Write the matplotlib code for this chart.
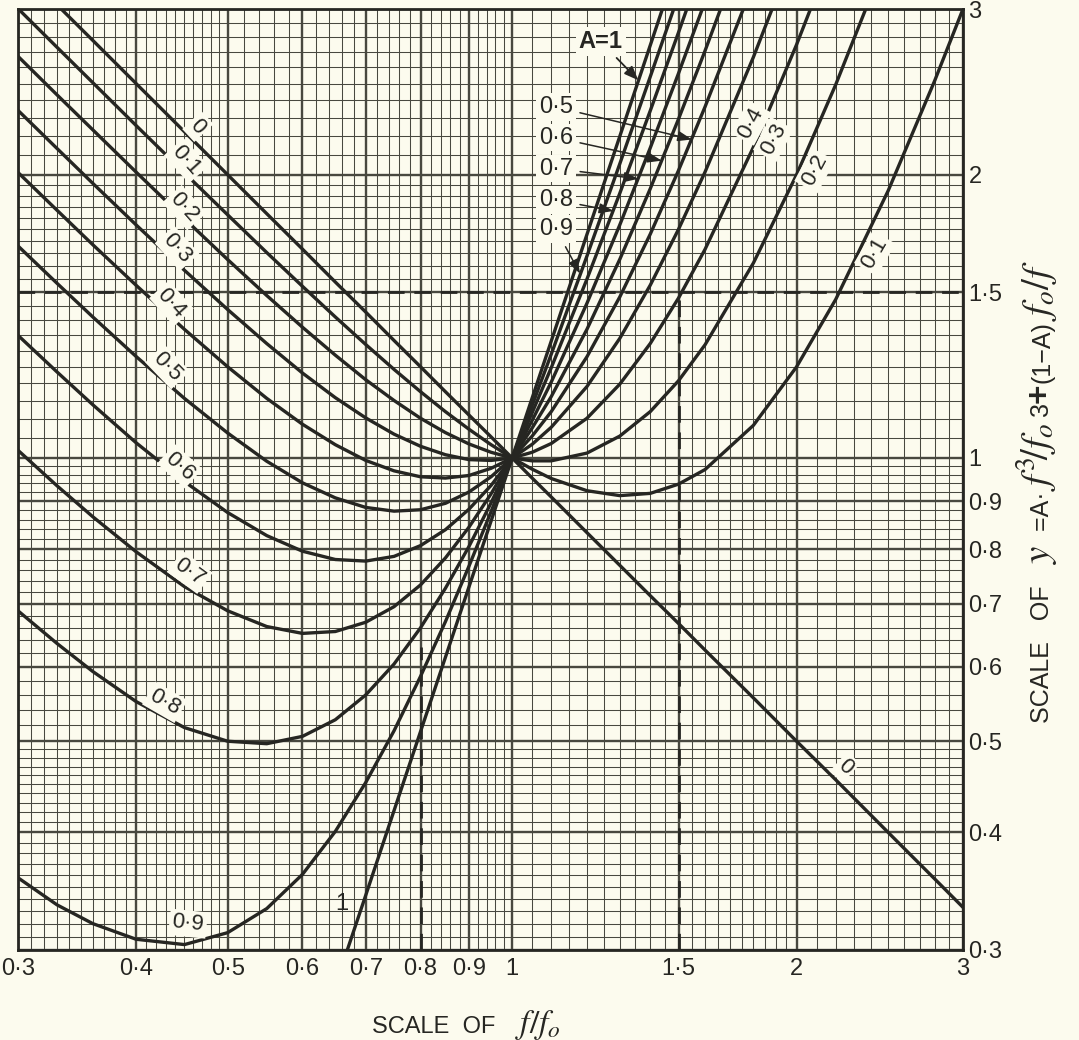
import matplotlib.pyplot as plt
import matplotlib.ticker as mticker
import numpy as np

nan = float("nan")

# f/f0 sample points and y = A*(f/f0)^3 + (1-A)*f0/f
f_ratio = [0.3, 0.33, 0.36, 0.4, 0.45, 0.5, 0.55, 0.6, 0.65, 0.7, 0.75, 0.8, 0.85,
           0.9, 0.95, 1.0, 1.05, 1.1, 1.2, 1.3, 1.4, 1.5, 1.6, 1.8, 2.0, 2.2, 2.5, 2.8, 3.0]

y_A00 = [3.333, 3.030, 2.778, 2.5, 2.222, 2.0, 1.818, 1.667, 1.538, 1.429, 1.333, 1.25, 1.176,
         1.111, 1.053, 1.0, 0.952, 0.909, 0.833, 0.769, 0.714, 0.667, 0.625, 0.556, 0.5, 0.455, 0.4, 0.357, 0.333]
y_A01 = [3.003, 2.731, 2.505, 2.256, 2.009, 1.813, 1.653, 1.522, 1.412, 1.320, 1.242, 1.176, 1.120,
         1.073, 1.033, 1.0, 0.973, 0.951, 0.923, 0.912, 0.917, 0.938, 0.972, 1.083, 1.25, 1.474, 1.923, 2.517, 3.0]
y_A02 = [2.672, 2.431, 2.232, 2.013, 1.796, 1.625, 1.488, 1.377, 1.286, 1.211, 1.151, 1.102, 1.064,
         1.035, 1.014, 1.0, 0.993, 0.993, 1.012, 1.055, 1.120, 1.208, 1.319, 1.611, 2.0, 2.493, 3.445, nan, nan]
y_A03 = [2.341, 2.132, 1.958, 1.769, 1.583, 1.438, 1.323, 1.231, 1.159, 1.103, 1.060, 1.029, 1.008,
         0.996, 0.994, 1.0, 1.014, 1.036, 1.102, 1.198, 1.323, 1.479, 1.666, 2.139, 2.75, 3.513, nan, nan, nan]
y_A04 = [2.011, 1.833, 1.685, 1.526, 1.370, 1.25, 1.157, 1.086, 1.033, 0.994, 0.969, 0.955, 0.952,
         0.958, 0.975, 1.0, 1.034, 1.078, 1.191, 1.340, 1.526, 1.75, 2.013, 2.666, 3.5, nan, nan, nan, nan]
y_A05 = [1.680, 1.533, 1.412, 1.282, 1.157, 1.063, 0.992, 0.941, 0.907, 0.886, 0.878, 0.881, 0.895,
         0.920, 0.955, 1.0, 1.055, 1.120, 1.281, 1.483, 1.729, 2.021, 2.361, 3.194, nan, nan, nan, nan, nan]
y_A06 = [1.350, 1.234, 1.139, 1.038, 0.944, 0.875, 0.827, 0.796, 0.780, 0.777, 0.786, 0.807, 0.839,
         0.882, 0.935, 1.0, 1.076, 1.162, 1.370, 1.626, 1.932, 2.292, 2.708, 3.721, nan, nan, nan, nan, nan]
y_A07 = [1.019, 0.934, 0.866, 0.795, 0.730, 0.688, 0.662, 0.651, 0.654, 0.669, 0.695, 0.733, 0.783,
         0.844, 0.916, 1.0, 1.096, 1.204, 1.460, 1.769, 2.135, 2.563, 3.055, nan, nan, nan, nan, nan, nan]
y_A08 = [0.688, 0.635, 0.593, 0.551, 0.517, 0.5, 0.497, 0.506, 0.527, 0.560, 0.604, 0.660, 0.727,
         0.805, 0.896, 1.0, 1.117, 1.247, 1.549, 1.911, 2.338, 2.833, 3.402, nan, nan, nan, nan, nan, nan]
y_A09 = [0.358, 0.335, 0.320, 0.308, 0.304, 0.313, 0.332, 0.361, 0.401, 0.452, 0.513, 0.586, 0.670,
         0.767, 0.877, 1.0, 1.137, 1.289, 1.639, 2.054, 2.541, 3.104, nan, nan, nan, nan, nan, nan, nan]
y_A10 = [nan, nan, nan, nan, nan, nan, nan, 0.216, 0.275, 0.343, 0.422, 0.512, 0.614,
         0.729, 0.857, 1.0, 1.158, 1.331, 1.728, 2.197, 2.744, 3.375, nan, nan, nan, nan, nan, nan, nan]

curves = [y_A00, y_A01, y_A02, y_A03, y_A04, y_A05, y_A06, y_A07, y_A08, y_A09, y_A10]

tick_vals = [0.3, 0.4, 0.5, 0.6, 0.7, 0.8, 0.9, 1, 1.5, 2, 3]
tick_text = ["0·3", "0·4", "0·5", "0·6", "0·7", "0·8", "0·9", "1", "1·5", "2", "3"]

bg = "#fcfbee"
ink = "#262622"
grid_c = "#48483f"

plt.rcParams["font.family"] = ["Liberation Sans", "DejaVu Sans"]
plt.rcParams["mathtext.fontset"] = "stix"

fig = plt.figure(figsize=(10.79, 10.40), dpi=100)
fig.patch.set_facecolor(bg)
ax = fig.add_axes([18 / 1079, 1 - 950 / 1040, 945 / 1079, 941 / 1040])
ax.set_facecolor(bg)
ax.set_xscale("log")
ax.set_yscale("log")
ax.set_xlim(0.3, 3)
ax.set_ylim(0.3, 3)

# graph paper
fine = np.round(np.concatenate([np.arange(0.30, 0.50, 0.01), np.arange(0.50, 1.0, 0.02),
                                np.arange(1.0, 2.0, 0.05), np.arange(2.0, 3.01, 0.1)]), 3)
for v in fine:
    ax.axvline(v, color=grid_c, lw=0.75, zorder=1)
    ax.axhline(v, color=grid_c, lw=0.75, zorder=1)
for v in tick_vals:
    ax.axvline(v, color=grid_c, lw=1.7, zorder=1)
    ax.axhline(v, color=grid_c, lw=1.7, zorder=1)

for s in ax.spines.values():
    s.set_linewidth(2.0)
    s.set_color(ink)

# dashed reading lines
ax.plot([0.3, 3], [1.5, 1.5], color=ink, lw=2.0, ls=(0, (6, 3.5)), zorder=2)
ax.plot([1.5, 1.5], [0.3, 1.5], color=ink, lw=2.0, ls=(0, (6, 3.5)), zorder=2)
ax.plot([0.8, 0.8], [0.3, 0.63], color=ink, lw=2.0, ls=(0, (6, 3.5)), zorder=2)

for ys in curves:
    ax.plot(f_ratio, ys, color=ink, lw=2.4, zorder=3, solid_capstyle="round")

ax.set_xticks(tick_vals)
ax.set_xticklabels(tick_text)
ax.xaxis.set_minor_locator(mticker.NullLocator())
ax.yaxis.tick_right()
ax.set_yticks(tick_vals)
ax.set_yticklabels(tick_text)
ax.yaxis.set_minor_locator(mticker.NullLocator())
ax.tick_params(axis="x", length=0, labelsize=17, pad=6, colors=ink)
ax.tick_params(axis="y", length=0, labelsize=17, pad=4, colors=ink)

box = dict(boxstyle="square,pad=0.12", fc=bg, ec="none")

# curve labels on the lines
on_curve = [
    ("0", 0.465, 2.25, -47), ("0·1", 0.452, 2.07, -48), ("0·2", 0.450, 1.845, -48),
    ("0·3", 0.442, 1.67, -48), ("0·4", 0.436, 1.46, -48), ("0·5", 0.432, 1.25, -46),
    ("0·6", 0.445, 0.98, -42), ("0·7", 0.456, 0.756, -36), ("0·8", 0.429, 0.55, -30),
    ("0·9", 0.454, 0.32, -6),
    ("0·4", 1.79, 2.27, 62), ("0·3", 1.89, 2.18, 62), ("0·2", 2.09, 2.02, 62),
    ("0·1", 2.42, 1.65, 60), ("0", 2.25, 0.469, -42),
]
for s, x, y, rot in on_curve:
    ax.text(x, y, s, rotation=rot, rotation_mode="anchor", ha="center", va="center",
            fontsize=16, color=ink, bbox=box, zorder=5)

ax.text(0.661, 0.336, "1", ha="center", va="center", fontsize=17, color=ink, zorder=5)

# labels with leaders in the crowded bundle
leaders = [
    ("0·5", 1.113, 2.36, 1.55, 2.18), ("0·6", 1.113, 2.19, 1.44, 2.07),
    ("0·7", 1.113, 2.03, 1.36, 1.98), ("0·8", 1.113, 1.88, 1.28, 1.83),
    ("0·9", 1.113, 1.75, 1.18, 1.57),
]
for s, x, y, tx, ty in leaders:
    ax.annotate(s, xy=(tx, ty), xytext=(x, y), ha="center", va="center", fontsize=17,
                color=ink, bbox=box, zorder=6,
                arrowprops=dict(arrowstyle="-|>,head_length=0.5,head_width=0.18", color=ink,
                                lw=1.1, shrinkA=3, shrinkB=0))

ax.annotate("A=1", xy=(1.36, 2.52), xytext=(1.241, 2.77), ha="center", va="center",
            fontsize=17, fontweight="bold", color=ink, bbox=box, zorder=6,
            arrowprops=dict(arrowstyle="-|>,head_length=0.5,head_width=0.2", color=ink,
                            lw=1.3, shrinkA=2, shrinkB=0))

# axis titles, built from pieces so the italic parts can be larger
renderer = fig.canvas.get_renderer()

x_pieces = [("SCALE  OF   ", 17), ("$f/f_o$", 24)]
px = 372
for s, size in x_pieces:
    t = fig.text(px / 1079, 1 - 1033 / 1040, s, ha="left", va="baseline", fontsize=size, color=ink)
    px += t.get_window_extent(renderer).width

y_pieces = [("SCALE   OF   ", 18), ("$y$", 28), ("  =A·", 18), ("$f^3\\!/f_o$", 28), (" 3", 18),
            ("+", 24), ("(1−A)", 18), ("$\\,f_o/f$", 28)]
py = 723
for s, size in y_pieces:
    weight = "bold" if s == "+" else "normal"
    t = fig.text(1049 / 1079, 1 - py / 1040, s, ha="left", va="baseline", rotation=90,
                 rotation_mode="anchor", fontsize=size, fontweight=weight, color=ink)
    py -= t.get_window_extent(renderer).height

fig.savefig("out.png", dpi=100, facecolor=bg)
